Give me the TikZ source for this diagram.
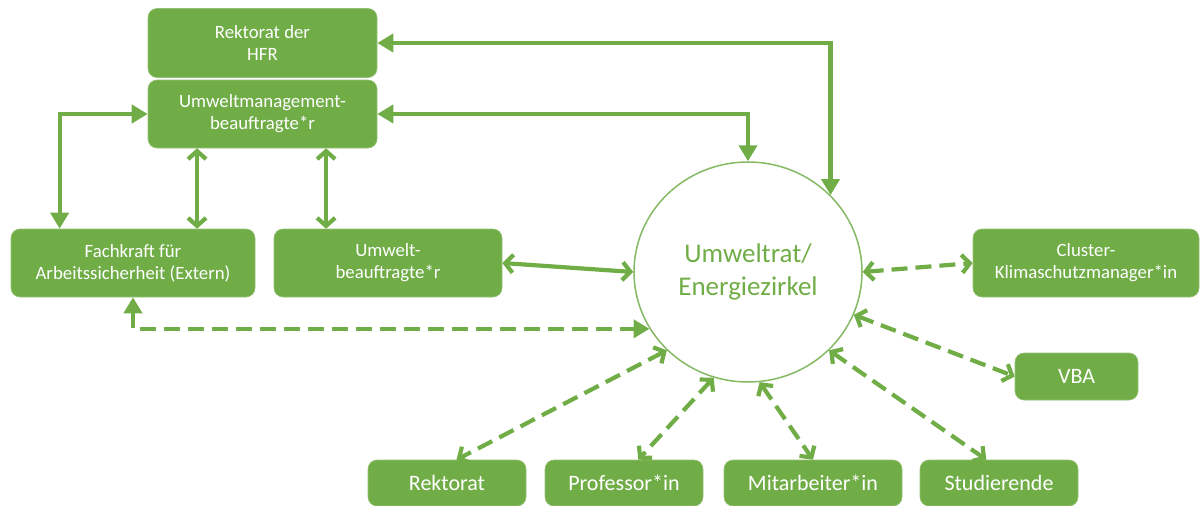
\documentclass[tikz,border=0pt]{standalone}
\usepackage{fontspec}
\setmainfont{Carlito}
\usetikzlibrary{arrows.meta,shapes.geometric,calc}
\definecolor{gr}{HTML}{70AD47}
\begin{document}
\begin{tikzpicture}[x=1pt,y=-1pt,
  box/.style={draw=gr!75!white, line width=0.6pt, fill=gr, rounded corners=9pt, text=white, align=center, inner sep=0pt, font=\fontsize{18.8}{22}\selectfont},
  sbox/.style={box, font=\fontsize{22}{26}\selectfont},
  con/.style={draw=gr, line width=4.2pt},
  tri/.style={con, {Triangle[length=16pt,width=18pt]}-{Triangle[length=16pt,width=18pt]}},
  barb/.style={con, {Straight Barb[length=8pt,width=18pt]}-{Straight Barb[length=8pt,width=18pt]}},
  dsh/.style={dash pattern=on 16pt off 8pt},
]
\useasboundingbox (0,0) rectangle (1200,506);

\node[box, minimum width=229pt, minimum height=69pt] (hfr) at (262.5,43) {Rektorat der\\HFR};
\node[box, minimum width=229pt, minimum height=68pt] (umb) at (262.5,114) {Umweltmanagement-\\beauftragte*r};
\node[box, minimum width=244pt, minimum height=68pt] (fk) at (133,263) {Fachkraft für\\Arbeitssicherheit (Extern)};
\node[box, minimum width=228pt, minimum height=68pt] (ub) at (388,263) {Umwelt-\\beauftragte*r};
\node[ellipse, draw=gr!85!white, line width=1.5pt, minimum width=228pt, minimum height=220pt, inner sep=0pt, text=gr, align=center, font=\fontsize{27}{33}\selectfont] (circ) at (748,272) {Umweltrat/\\Energiezirkel};
\node[box, minimum width=226pt, minimum height=68pt] (cl) at (1086,263) {Cluster-\\Klimaschutzmanager*in};
\node[sbox, minimum width=123pt, minimum height=47pt] (vba) at (1076.5,376.5) {VBA};
\node[sbox, minimum width=158pt, minimum height=46pt] (rk) at (447,483) {Rektorat};
\node[sbox, minimum width=158pt, minimum height=46pt] (prof) at (624,483) {Professor*in};
\node[sbox, minimum width=178pt, minimum height=46pt] (mit) at (813,483) {Mitarbeiter*in};
\node[sbox, minimum width=158pt, minimum height=46pt] (stud) at (999,483) {Studierende};

\coordinate (v1) at ($(umb.south west)!0.215!(umb.south east)$);
\coordinate (v2) at ($(umb.south west)!0.777!(umb.south east)$);
\coordinate (fkn) at ($(fk.north west)!0.2!(fk.north east)$);
\coordinate (rkn) at ($(rk.north west)!0.56!(rk.north east)$);
\coordinate (prn) at ($(prof.north west)!0.59!(prof.north east)$);
\coordinate (stn) at ($(stud.north west)!0.42!(stud.north east)$);

\draw[tri] (circ.43.5) |- (hfr.east);
\draw[tri] (umb.east) -| (circ.north);
\draw[tri] (umb.west) -| (fkn);
\draw[barb] (v1) -- (v1 |- fk.north);
\draw[barb] (v2) -- (v2 |- ub.north);
\draw[barb] (ub.east) -- (circ.west);
\draw[tri, dsh] (fk.south) |- (circ.210);
\draw[barb, dsh] (circ.east) -- (cl.west);
\draw[barb, dsh] (circ.338) -- (vba.west);
\draw[barb, dsh] (circ.224) -- (rkn);
\draw[barb, dsh] (circ.252) -- (prn);
\draw[barb, dsh] (circ.276) -- (mit.north);
\draw[barb, dsh] (circ.316) -- (stn);
\end{tikzpicture}
\end{document}
